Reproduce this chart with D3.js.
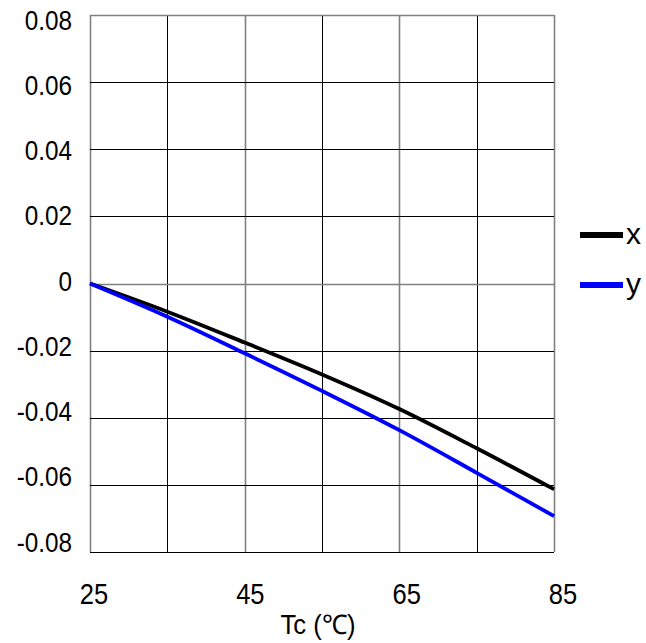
<!DOCTYPE html>
<html>
<head>
<meta charset="utf-8">
<script src="https://cdn.jsdelivr.net/npm/d3@7"></script>
<style>
  html, body { margin: 0; padding: 0; background: #fff; }
  svg { display: block; font-family: "Liberation Sans", Arial, sans-serif; }
</style>
</head>
<body>
<svg id="chart" width="646" height="643"></svg>
<script>
// ---- data ----
const temps = [25, 35, 45, 55, 65, 75, 85];
const xShift = [0, -0.0084, -0.0176, -0.0271, -0.0374, -0.0491, -0.0613];
const yShift = [0, -0.0099, -0.0208, -0.0320, -0.0437, -0.0564, -0.0693];
const xTickLabels = [25, 45, 65, 85];
const yTickLabels = [0.08, 0.06, 0.04, 0.02, 0, -0.02, -0.04, -0.06, -0.08];
const seriesNames = ["x", "y"];
const seriesColors = ["#000000", "#0000ff"];
const axisTitle = "Tc (\u2103)";

// ---- layout ----
const L = 90, R = 554, T = 15, B = 552;
const svg = d3.select("#chart");

const x = d3.scaleLinear().domain([25, 85]).range([L, R]);
const y = d3.scaleLinear().domain([-0.08, 0.08]).range([B, T]);
// label placement scales (labels in the reference are slightly offset from grid)
const xLab = d3.scaleLinear().domain([25, 85]).range([94, 563]);
const yLab = d3.scaleLinear().domain([-0.08, 0.08]).range([542, 20]);

// grid
const vGrid = d3.range(25, 86, 10);
const hGrid = d3.range(-0.08, 0.0801, 0.02).map(v => +v.toFixed(2));
const grayV = new Set([25, 45, 65, 85]);
const grayH = new Set([0.08, 0]);

svg.append("g").selectAll("line").data(vGrid).join("line")
  .attr("x1", d => Math.round(x(d)) + 0.5).attr("x2", d => Math.round(x(d)) + 0.5)
  .attr("y1", T).attr("y2", B)
  .attr("stroke", d => grayV.has(d) ? "#808080" : "#000")
  .attr("stroke-width", d => grayV.has(d) ? 1.6 : 1);

svg.append("g").selectAll("line").data(hGrid).join("line")
  .attr("x1", L).attr("x2", R)
  .attr("y1", d => Math.round(y(d)) + 0.5).attr("y2", d => Math.round(y(d)) + 0.5)
  .attr("stroke", d => grayH.has(d) ? "#808080" : "#000")
  .attr("stroke-width", d => grayH.has(d) ? 1.6 : 1);

// y labels (slightly condensed like the reference)
svg.append("g").selectAll("text").data(yTickLabels).join("text")
  .attr("transform", d => `translate(72, ${yLab(d)}) scale(0.9, 1)`)
  .attr("dy", "0.36em")
  .attr("text-anchor", "end")
  .attr("font-size", 27)
  .text(d => d === 0 ? "0" : d3.format(".2f")(d).replace("\u2212", "-"));

// x labels
svg.append("g").selectAll("text").data(xTickLabels).join("text")
  .attr("transform", d => `translate(${xLab(d)}, 594) scale(0.88, 1)`)
  .attr("dy", "0.36em")
  .attr("text-anchor", "middle")
  .attr("font-size", 29)
  .text(d => d);

// axis title
svg.append("text")
  .attr("transform", "translate(318, 624) scale(0.95, 1)")
  .attr("dy", "0.36em").attr("text-anchor", "middle")
  .attr("font-size", 27).text(axisTitle);

// lines
const series = [xShift, yShift];
const line = d3.line()
  .x((d, i) => x(temps[i]))
  .y(d => y(d))
  .curve(d3.curveMonotoneX);

svg.append("g").selectAll("path").data(series).join("path")
  .attr("d", d => line(d))
  .attr("fill", "none")
  .attr("stroke", (d, i) => seriesColors[i])
  .attr("stroke-width", 3.8);

// legend
const lg = svg.append("g").selectAll("g").data(seriesNames).join("g")
  .attr("transform", (d, i) => `translate(580, ${235 + i * 50})`);
lg.append("line").attr("x1", 0).attr("x2", 43).attr("y1", 0).attr("y2", 0)
  .attr("stroke", (d, i) => seriesColors[i]).attr("stroke-width", 6);
lg.append("text").attr("x", 46).attr("y", 0).attr("dy", "0.3em")
  .attr("font-size", 30).text(d => d);
</script>
</body>
</html>
